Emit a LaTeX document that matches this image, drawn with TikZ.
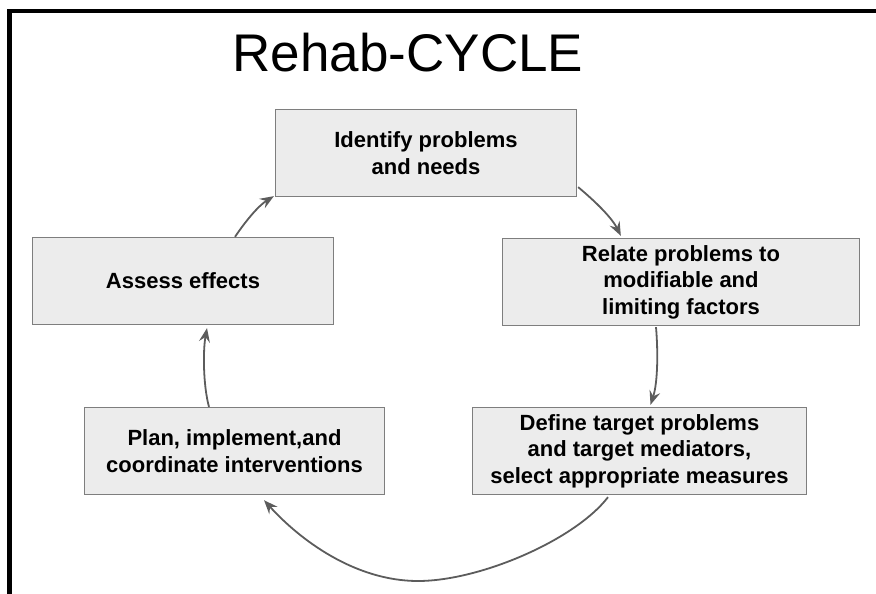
\documentclass[tikz,border=0pt]{standalone}
\usepackage{fontspec}
\setmainfont{Liberation Sans}
\usetikzlibrary{arrows.meta,calc}
\definecolor{boxfill}{HTML}{ECECEC}
\definecolor{boxborder}{HTML}{7E7E7E}
\definecolor{arrowgray}{HTML}{5C5C5C}
\begin{document}
\begin{tikzpicture}[x=1pt,y=-1pt,
  box/.style={draw=boxborder, line width=1.3pt, fill=boxfill, inner sep=0pt,
    align=center, text=black, font=\fontsize{22}{26.5}\selectfont\bfseries,
    minimum height=87pt},
  cyc/.style={draw=arrowgray, line width=1.8pt,
    -{Stealth[length=14pt,width=11pt,inset=5pt]}},
  frame/.style={draw=black, line width=4.5pt, line join=miter}]
\useasboundingbox (0,0) rectangle (876,594);
% frame
\draw[frame] (876,11) -- (9.5,11) -- (9.5,594);
% title
\node[anchor=base, inner sep=0pt, font=\fontsize{53}{60}\selectfont] (title) at (408,71) {Rehab-CYCLE};
% boxes
\node[box, minimum width=301pt] (t) at (426,153) {Identify problems\\and needs};
\node[box, minimum width=357pt] (r) at (681,282) {Relate problems to\\modifiable and\\limiting factors};
\node[box, minimum width=334pt] (d) at (639.5,451) {Define target problems\\and target mediators,\\select appropriate measures};
\node[box, minimum width=300pt] (p) at (234.5,451) {Plan, implement,and\\coordinate interventions};
\node[box, minimum width=301pt] (a) at (183,281) {Assess effects};
% cycle arrows
\draw[cyc] ($(t.south east)+(1,-10)$) .. controls (596,202) and (612,218) .. ($(r.north west)+(119,-2)$);
\draw[cyc] ($(r.south)+(-25,1)$) .. controls (658,350) and (658,382) .. ($(d.north)+(11,-2)$);
\draw[cyc] ($(d.south)+(-31.5,2)$) .. controls (575,540) and (480,581) .. (418,581)
  .. controls (355,581) and (300,540) .. ($(p.south)+(29.5,5)$);
\draw[cyc] ($(p.north)+(-25.5,0)$) .. controls (203,385) and (203,350) .. ($(a.south)+(24,3)$);
\draw[cyc] ($(a.north)+(52,0)$) .. controls (245,222) and (258,206) .. ($(t.south west)+(-1,-1)$);
\end{tikzpicture}
\end{document}
